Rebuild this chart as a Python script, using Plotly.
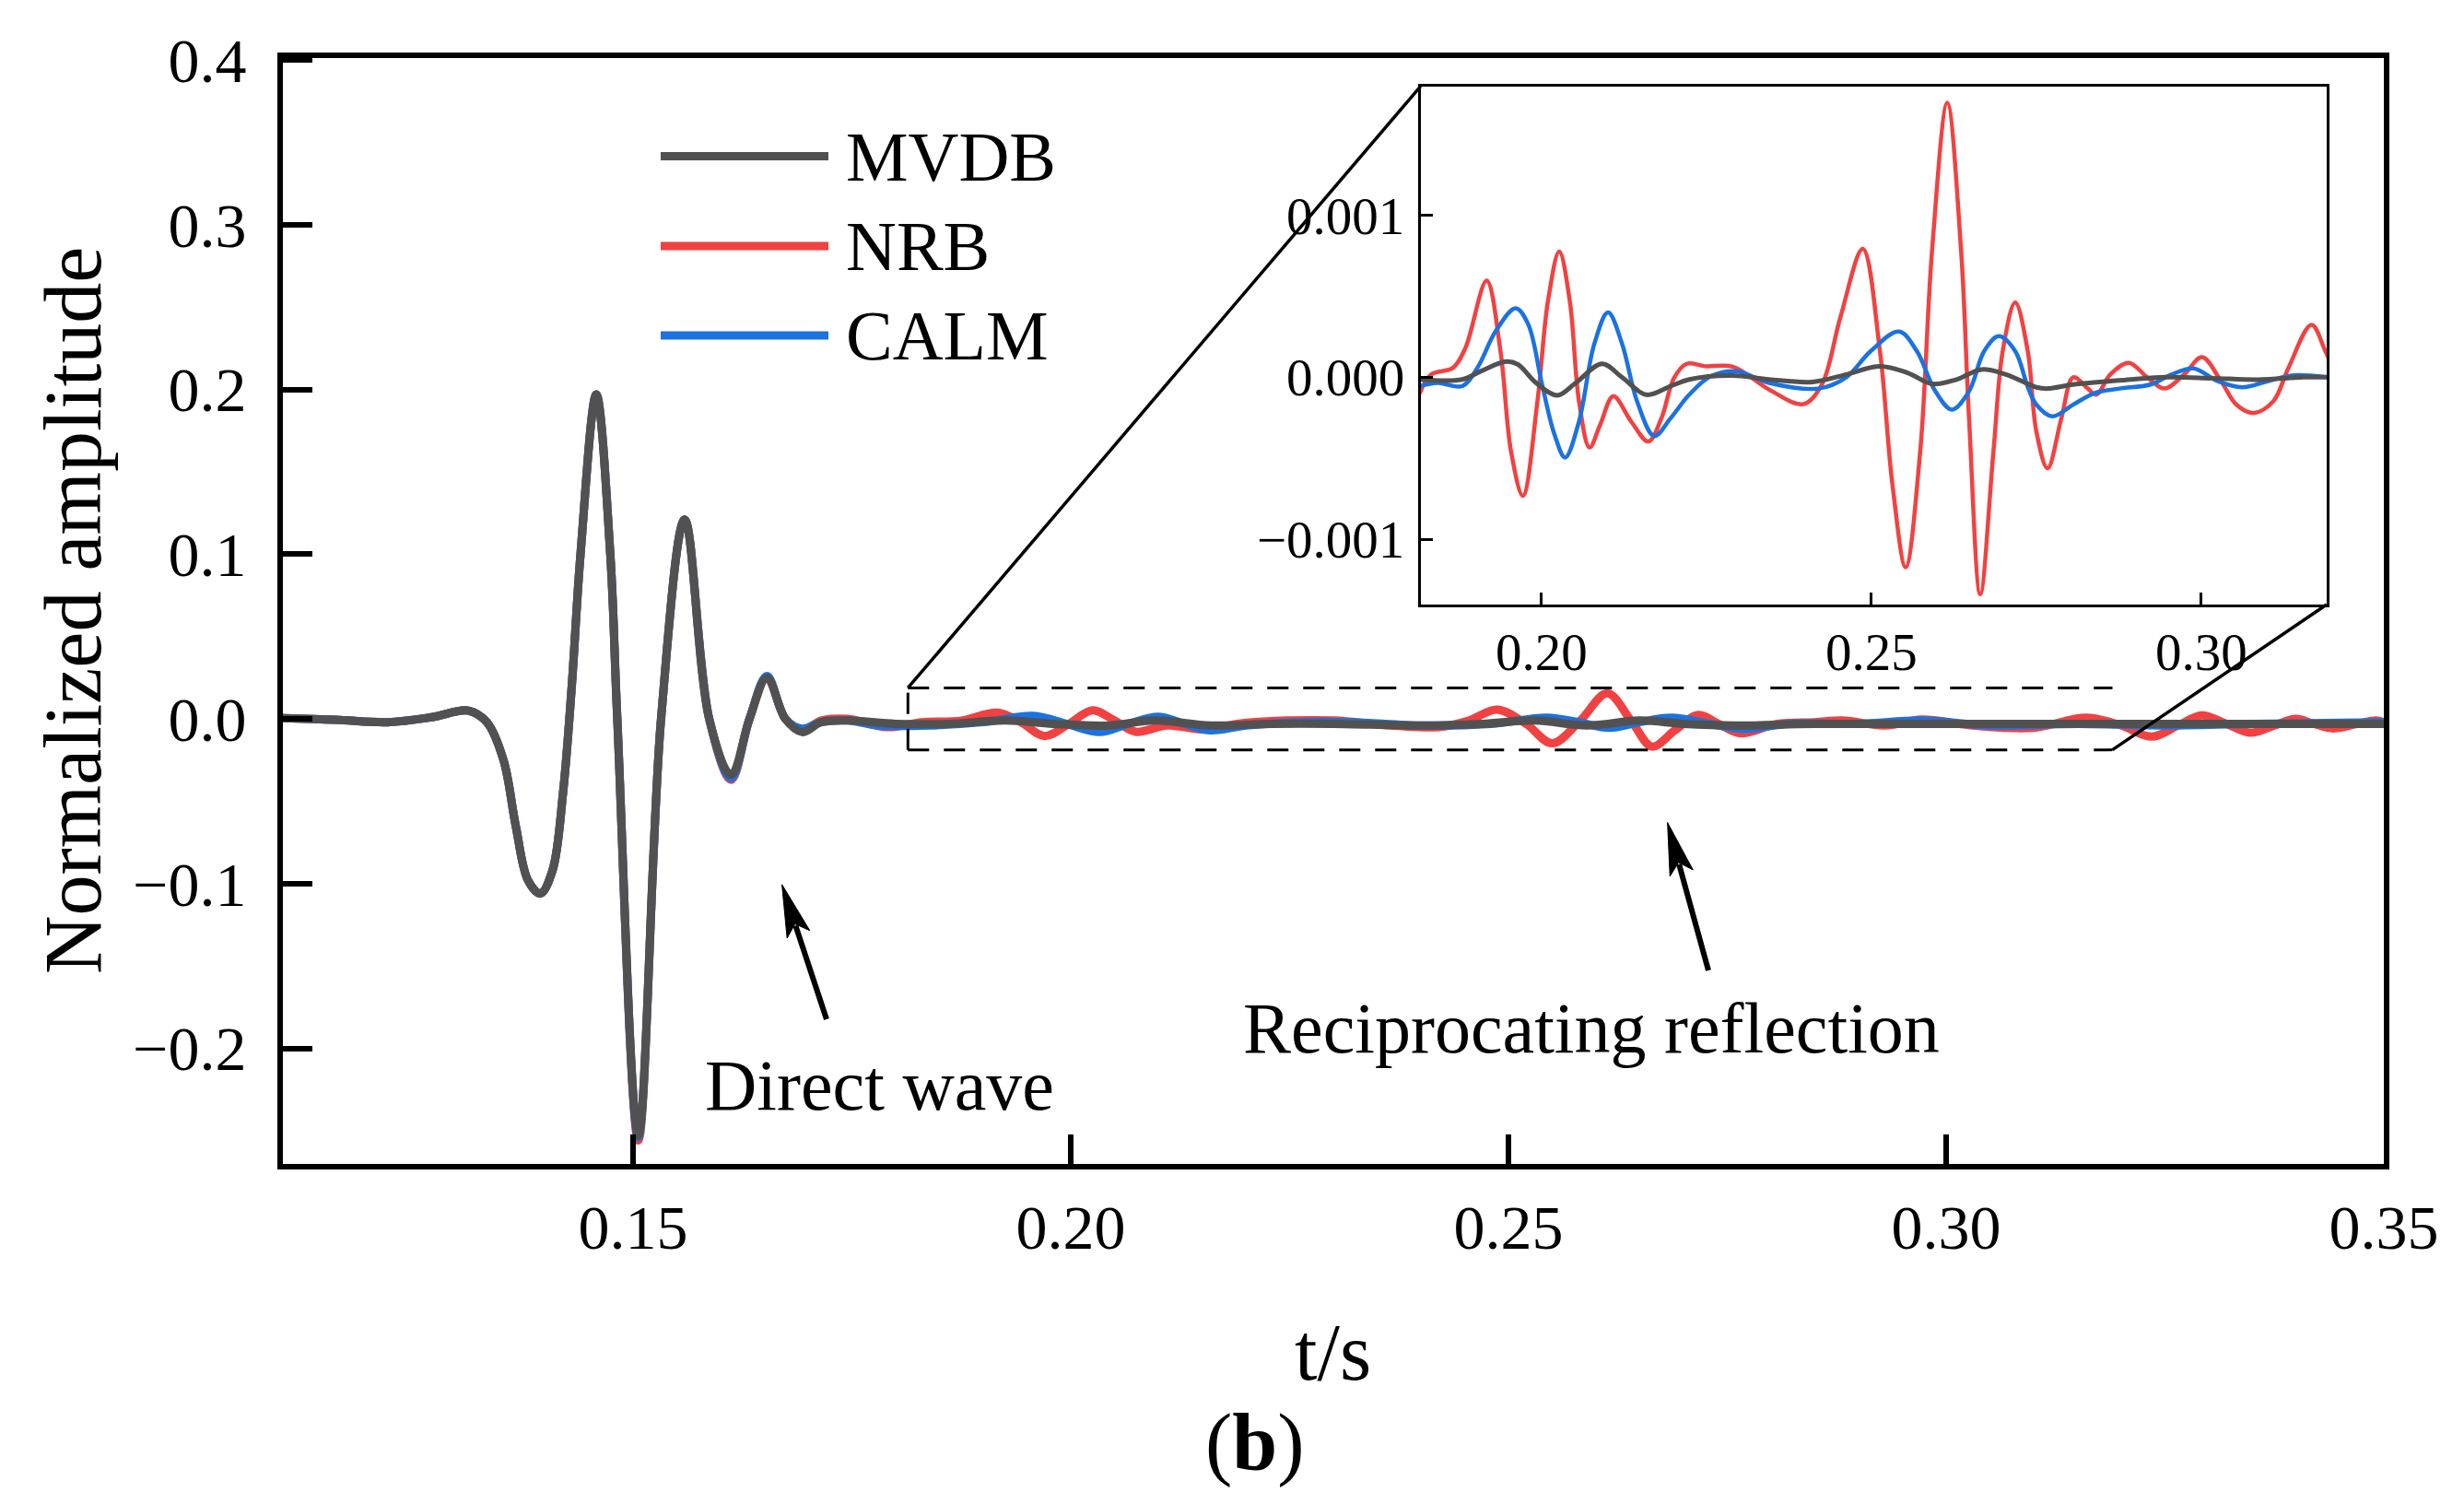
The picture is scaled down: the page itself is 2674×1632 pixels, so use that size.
import math
import plotly.graph_objects as go

FONT = "Liberation Serif"
GRAY, RED, BLUE = "#515151", "#F24141", "#1B72E0"

# ---------------- main panel data ----------------
direct_t = [0.110, 0.116, 0.122, 0.127, 0.1312, 0.1333, 0.1352, 0.1366, 0.1380, 0.1394, 0.1408, 0.1420,
            0.1430, 0.1440, 0.1458, 0.1474, 0.1482, 0.1506, 0.1532, 0.1559, 0.1587, 0.1612, 0.1633,
            0.1653, 0.1674, 0.1693, 0.1715]
mvdb_direct_v = [0.0005, -0.0005, -0.002, 0.001, 0.005, -0.002, -0.025, -0.065, -0.098, -0.106, -0.092, -0.045,
                 0.020, 0.100, 0.197, 0.100, 0.0, -0.253, 0.0, 0.121, 0.0, -0.034, 0.0,
                 0.025, 0.0, -0.008, -0.002]
nrb_direct_v = [0.0005, -0.0005, -0.002, 0.001, 0.005, -0.002, -0.025, -0.065, -0.098, -0.106, -0.092, -0.045,
                0.020, 0.100, 0.197, 0.100, 0.0, -0.256, 0.0, 0.121, 0.0, -0.037, 0.0,
                0.025, 0.0, -0.007, -0.001]
calm_direct_v = [0.0005, -0.0005, -0.002, 0.001, 0.005, -0.002, -0.025, -0.065, -0.098, -0.106, -0.092, -0.045,
                 0.020, 0.100, 0.197, 0.100, 0.0, -0.254, 0.0, 0.121, 0.0, -0.036, 0.0,
                 0.026, 0.0, -0.006, -0.002]

mvdb_tail_t = [0.1745, 0.180, 0.186, 0.1925, 0.198, 0.2045, 0.2095, 0.2160, 0.2230, 0.2300,
               0.2400, 0.2470, 0.2530, 0.2590, 0.2650, 0.2700, 0.2760, 0.2850, 0.3000, 0.3200, 0.3500]
mvdb_tail_v = [-0.001, -0.003, -0.003, -0.001, -0.003, -0.004, -0.001, -0.004, -0.003, -0.003,
               -0.004, -0.003, -0.001, -0.004, -0.001, -0.003, -0.004, -0.003, -0.003, -0.003, -0.003]

nrb_tail_t = [0.1745, 0.1790, 0.1830, 0.1875, 0.1916, 0.1943, 0.1970, 0.1998, 0.2025, 0.2050,
              0.2074, 0.2110, 0.2153, 0.2190, 0.2246, 0.2300, 0.2366, 0.2420, 0.2455, 0.2487,
              0.2520, 0.2550, 0.2582, 0.2613, 0.2640, 0.2664, 0.2690, 0.2717, 0.2740, 0.2765,
              0.2807, 0.2850, 0.2882, 0.2930, 0.2972, 0.3030, 0.3100, 0.3160, 0.3200, 0.3235,
              0.3265, 0.3292, 0.3320, 0.3348, 0.3375, 0.3399, 0.3420, 0.3442, 0.3470, 0.3491, 0.3500]
nrb_tail_v = [0.000, -0.005, -0.002, -0.001, 0.0038, -0.002, -0.0104, -0.003, 0.0052, -0.001,
              -0.0078, -0.004, -0.0065, -0.003, -0.001, -0.001, -0.004, -0.005, -0.001, 0.0056,
              -0.003, -0.0148, -0.001, 0.0156, -0.001, -0.0168, -0.007, 0.0024, -0.003, -0.0088,
              -0.003, -0.002, -0.001, -0.004, -0.0004, -0.004, -0.0054, 0.0008, -0.004, -0.0108,
              -0.004, 0.0022, -0.003, -0.0084, -0.004, 0.000, -0.003, -0.0058, -0.003, -0.001, -0.002]

calm_tail_t = [0.1745, 0.178, 0.184, 0.190, 0.1957, 0.1995, 0.2033, 0.2066, 0.2100, 0.2130,
               0.2160, 0.2200, 0.2260, 0.2320, 0.2400, 0.2480, 0.2544, 0.2580, 0.2615, 0.2650,
               0.2686, 0.2730, 0.2769, 0.2820, 0.2900, 0.2972, 0.3050, 0.3150, 0.3250, 0.3350, 0.3500]
calm_tail_v = [-0.001, -0.004, -0.004, -0.002, 0.0018, -0.003, -0.008, -0.003, 0.0013, -0.003,
               -0.007, -0.004, -0.002, -0.002, -0.004, -0.003, 0.0008, -0.002, -0.0054, -0.002,
               0.0007, -0.003, -0.006, -0.003, -0.003, -0.001, -0.004, -0.003, -0.004, -0.003, -0.002]

# ---------------- inset data ----------------
in_nrb_t = [0.1815, 0.1833, 0.1866, 0.1885, 0.1917, 0.1938, 0.1954, 0.1972, 0.1994, 0.2010,
            0.2027, 0.2043, 0.2057, 0.2073, 0.2089, 0.2109, 0.2136, 0.2162, 0.2182, 0.2201,
            0.2220, 0.2248, 0.2290, 0.2345, 0.2397, 0.2425, 0.2453, 0.2487, 0.2513, 0.2532,
            0.2552, 0.2574, 0.2592, 0.2615, 0.2636, 0.2648, 0.2665, 0.2685, 0.2699, 0.2718,
            0.2737, 0.2750, 0.2767, 0.2788, 0.2806, 0.2827, 0.2841, 0.2862, 0.2890, 0.2918,
            0.2944, 0.2974, 0.3001, 0.3030, 0.3053, 0.3079, 0.3109, 0.3132, 0.3167, 0.3188, 0.3215]
in_nrb_v = [-0.000106, 0.000017, 0.000058, 0.000182, 0.000596, 0.000161, -0.000459, -0.000732, -0.000149, 0.000472,
            0.000776, 0.000472, -0.000149, -0.000434, -0.000294, -0.000118, -0.000273, -0.000397, -0.000252, -0.000004,
            0.000083, 0.000068, 0.000065, -0.000076, -0.000166, -0.000045, 0.000369, 0.000793, 0.000161, -0.000666,
            -0.001174, -0.000459, 0.000783, 0.001695, 0.000780, -0.000252, -0.001340, -0.000459, 0.000161, 0.000461,
            0.000161, -0.000335, -0.000563, -0.000252, 0.000000, -0.000066, -0.000108, 0.000017, 0.000089, 0.000000,
            -0.000070, 0.000017, 0.000124, -0.000025, -0.000169, -0.000221, -0.000149, 0.000058, 0.000323, 0.000161, -0.000100]

in_calm_t = [0.1815, 0.1843, 0.1880, 0.1903, 0.1931, 0.1961, 0.1980, 0.2001, 0.2020, 0.2036,
             0.2057, 0.2080, 0.2101, 0.2122, 0.2145, 0.2171, 0.2196, 0.2224, 0.2257, 0.2295,
             0.2345, 0.2420, 0.2462, 0.2499, 0.2542, 0.2569, 0.2597, 0.2622, 0.2648, 0.2671,
             0.2693, 0.2718, 0.2737, 0.2750, 0.2774, 0.2806, 0.2839, 0.2876, 0.2923, 0.2955,
             0.2988, 0.3025, 0.3062, 0.3100, 0.3137, 0.3190]
in_calm_v = [-0.000055, -0.000035, -0.000055, 0.000058, 0.000286, 0.000426, 0.000327, -0.000045, -0.000356, -0.000496,
             -0.000273, 0.000203, 0.000400, 0.000210, -0.000149, -0.000363, -0.000252, -0.000108, 0.000007, 0.000037,
             -0.000035, -0.000070, 0.000000, 0.000161, 0.000282, 0.000161, -0.000087, -0.000200, -0.000087, 0.000161,
             0.000253, 0.000161, -0.000060, -0.000169, -0.000242, -0.000169, -0.000097, -0.000070, -0.000045, 0.000017,
             0.000054, -0.000025, -0.000062, -0.000025, 0.000011, 0.000000]

in_mvdb_t = [0.1815, 0.1880, 0.1908, 0.1945, 0.1964, 0.1992, 0.2024, 0.2052, 0.2092, 0.2122,
             0.2159, 0.2196, 0.2224, 0.2290, 0.2345, 0.2411, 0.2462, 0.2513, 0.2555, 0.2592,
             0.2629, 0.2667, 0.2704, 0.2750, 0.2767, 0.2806, 0.2876, 0.2946, 0.3016, 0.3086,
             0.3155, 0.3190]
in_mvdb_v = [-0.000014, -0.000014, 0.000037, 0.000096, 0.000080, -0.000035, -0.000112, -0.000035, 0.000083, 0.000000,
             -0.000108, -0.000055, -0.000014, 0.000010, -0.000014, -0.000029, 0.000017, 0.000068, 0.000027, -0.000041,
             -0.000014, 0.000048, 0.000017, -0.000062, -0.000070, -0.000045, -0.000020, 0.000000, -0.000006, -0.000015,
             0.000000, 0.000000]

series_names = ["MVDB", "NRB", "CALM"]
main_x_ticks = [0.15, 0.20, 0.25, 0.30, 0.35]
main_x_text = ["0.15", "0.20", "0.25", "0.30", "0.35"]
main_y_ticks = [0.4, 0.3, 0.2, 0.1, 0.0, -0.1, -0.2]
main_y_text = ["0.4", "0.3", "0.2", "0.1", "0.0", "\u22120.1", "\u22120.2"]
in_x_ticks = [0.20, 0.25, 0.30]
in_x_text = ["0.20", "0.25", "0.30"]
in_y_ticks = [-0.001, 0.0, 0.001]
in_y_text = ["\u22120.001", "0.000", "0.001"]

# ---------------- layout geometry ----------------
W_FIG, H_FIG = 2674, 1632
L, T, W, H = 307, 63, 2280, 1200
XR = [0.11, 0.35]
YR = [-0.2702, 0.4012]
IN_XR = [0.1817, 0.3190]
IN_YR = [-0.001404, 0.001797]
IN_DOM_X = [(1541.7 - L) / W, (2525 - L) / W]
IN_DOM_Y = [(T + H - 656) / H, (T + H - 93.6) / H]
RECT_T = [0.1814, 0.3190]
RECT_V = [-0.0188, 0.0188]


def pxx(xo):
    return (xo - L) / W


def pxy(yo):
    return (T + H - yo) / H


def d2p(t, v):
    return (t - XR[0]) / (XR[1] - XR[0]), (v - YR[0]) / (YR[1] - YR[0])


fig = go.Figure()

main_sets = [
    ("NRB", direct_t + nrb_tail_t, nrb_direct_v + nrb_tail_v, RED),
    ("CALM", direct_t + calm_tail_t, calm_direct_v + calm_tail_v, BLUE),
    ("MVDB", direct_t + mvdb_tail_t, mvdb_direct_v + mvdb_tail_v, GRAY),
]
for name, tt, vv, col in main_sets:
    fig.add_trace(go.Scatter(x=tt, y=vv, mode="lines", name=name,
                             line=dict(color=col, width=9, shape="spline", smoothing=1.0),
                             showlegend=False, xaxis="x", yaxis="y"))

inset_sets = [
    ("NRB", in_nrb_t, in_nrb_v, RED, 4.5),
    ("CALM", in_calm_t, in_calm_v, BLUE, 4.5),
    ("MVDB", in_mvdb_t, in_mvdb_v, GRAY, 5),
]
for name, tt, vv, col, w in inset_sets:
    fig.add_trace(go.Scatter(x=tt, y=vv, mode="lines", name=name,
                             line=dict(color=col, width=w, shape="spline", smoothing=1.0),
                             showlegend=False, xaxis="x2", yaxis="y2"))

axis_common = dict(showline=True, linecolor="black", mirror=True, showgrid=False,
                   zeroline=False, ticks="inside", tickcolor="black")

fig.update_layout(
    width=W_FIG, height=H_FIG,
    margin=dict(l=L, r=W_FIG - L - W, t=T, b=H_FIG - T - H, pad=0),
    paper_bgcolor="white", plot_bgcolor="white",
    font=dict(family=FONT, color="black"),
    showlegend=False,
    xaxis=dict(range=XR, domain=[0, 1], linewidth=6, ticklen=32, tickwidth=6,
               tickvals=main_x_ticks, ticktext=main_x_text,
               tickfont=dict(size=68, family=FONT), ticklabelstandoff=4, **axis_common),
    yaxis=dict(range=YR, domain=[0, 1], linewidth=6, ticklen=32, tickwidth=6,
               tickvals=main_y_ticks, ticktext=main_y_text,
               tickfont=dict(size=68, family=FONT), ticklabelstandoff=20, **axis_common),
    xaxis2=dict(range=IN_XR, domain=IN_DOM_X, anchor="y2", linewidth=3, ticklen=13, tickwidth=3,
                tickvals=in_x_ticks, ticktext=in_x_text,
                tickfont=dict(size=57, family=FONT), ticklabelstandoff=0, **axis_common),
    yaxis2=dict(range=IN_YR, domain=IN_DOM_Y, anchor="x2", linewidth=3, ticklen=13, tickwidth=3,
                tickvals=in_y_ticks, ticktext=in_y_text,
                tickfont=dict(size=57, family=FONT), ticklabelstandoff=3, **axis_common),
)

shapes = []
dash = "23px,16px"
# dashed zoom rectangle (top, bottom, left)
shapes.append(dict(type="line", xref="x", yref="y", x0=RECT_T[0], x1=RECT_T[1], y0=RECT_V[1], y1=RECT_V[1],
                   line=dict(color="black", width=3, dash=dash)))
shapes.append(dict(type="line", xref="x", yref="y", x0=RECT_T[0], x1=RECT_T[1], y0=RECT_V[0], y1=RECT_V[0],
                   line=dict(color="black", width=3, dash=dash)))
shapes.append(dict(type="line", xref="x", yref="y", x0=RECT_T[0], x1=RECT_T[0], y0=RECT_V[0], y1=RECT_V[1],
                   line=dict(color="black", width=3, dash=dash)))
# connectors
p0 = d2p(RECT_T[0], RECT_V[1])
shapes.append(dict(type="line", xref="paper", yref="paper", x0=p0[0], y0=p0[1],
                   x1=IN_DOM_X[0], y1=IN_DOM_Y[1], line=dict(color="black", width=3.5)))
p1 = d2p(RECT_T[1], RECT_V[0])
shapes.append(dict(type="line", xref="paper", yref="paper", x0=p1[0], y0=p1[1],
                   x1=IN_DOM_X[1], y1=IN_DOM_Y[0], line=dict(color="black", width=3.5)))

# legend (manual, long sample lines)
legend_y = [169.5, 267, 364]
legend_cols = [GRAY, RED, BLUE]
for name, yo, col in zip(series_names, legend_y, legend_cols):
    shapes.append(dict(type="line", xref="paper", yref="paper", x0=pxx(717), x1=pxx(899),
                       y0=pxy(yo), y1=pxy(yo), line=dict(color=col, width=9)))

annotations = []
for name, yo in zip(series_names, legend_y):
    annotations.append(dict(xref="paper", yref="paper", x=pxx(916), y=pxy(yo), text=name,
                            showarrow=False, xanchor="left", yanchor="middle",
                            font=dict(size=76, family=FONT, color="black")))


# arrows drawn in pixel space
def arrow(tail, head, hl=57, hw=13, lw=6):
    dx, dy = head[0] - tail[0], head[1] - tail[1]
    n = math.hypot(dx, dy)
    ux, uy = dx / n, dy / n
    bx, by = head[0] - ux * hl, head[1] - uy * hl
    px_, py_ = -uy, ux
    shapes.append(dict(type="line", xref="paper", yref="paper",
                       x0=pxx(tail[0]), y0=pxy(tail[1]),
                       x1=pxx(bx + ux * 10), y1=pxy(by + uy * 10),
                       line=dict(color="black", width=lw)))
    pts = [(head[0], head[1]), (bx + px_ * hw, by + py_ * hw), (bx + ux * 12, by + uy * 12),
           (bx - px_ * hw, by - py_ * hw)]
    path = "M " + " L ".join(f"{pxx(a):.5f},{pxy(b):.5f}" for a, b in pts) + " Z"
    shapes.append(dict(type="path", xref="paper", yref="paper", path=path,
                       fillcolor="black", line=dict(color="black", width=1)))


arrow((897, 1106), (848.6, 959.8))
arrow((1854, 1053), (1809.6, 892.5))

annotations.append(dict(xref="paper", yref="paper", x=pxx(954.5), y=pxy(1177), text="Direct wave",
                        showarrow=False, xanchor="center", yanchor="middle",
                        font=dict(size=78, family=FONT, color="black")))
annotations.append(dict(xref="paper", yref="paper", x=pxx(1727), y=pxy(1115), text="Reciprocating reflection",
                        showarrow=False, xanchor="center", yanchor="middle",
                        font=dict(size=78, family=FONT, color="black")))
annotations.append(dict(xref="paper", yref="paper", x=pxx(79), y=pxy(663), text="Normalized amplitude",
                        showarrow=False, xanchor="center", yanchor="middle", textangle=-90,
                        font=dict(size=88, family=FONT, color="black")))
annotations.append(dict(xref="paper", yref="paper", x=pxx(1446), y=pxy(1467), text="t/s",
                        showarrow=False, xanchor="center", yanchor="middle",
                        font=dict(size=88, family=FONT, color="black")))
annotations.append(dict(xref="paper", yref="paper", x=pxx(1362), y=pxy(1565), text="(<b>b</b>)",
                        showarrow=False, xanchor="center", yanchor="middle",
                        font=dict(size=88, family=FONT, color="black")))

fig.update_layout(shapes=shapes, annotations=annotations)

fig.write_html("out.html", config={"displayModeBar": False},
               post_script="document.body.style.margin='0';document.body.style.overflow='hidden';")
